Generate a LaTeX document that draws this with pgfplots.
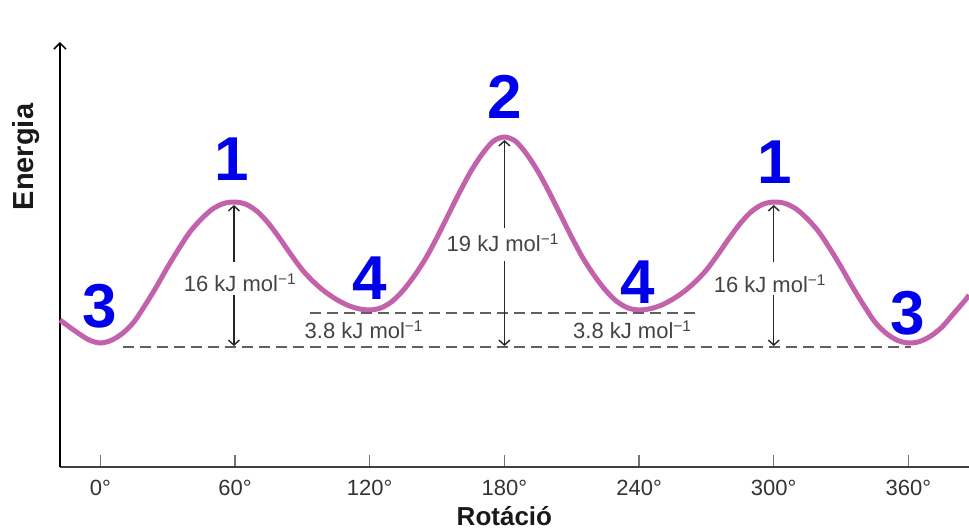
\documentclass[border=0pt]{standalone}
\usepackage{fontspec}
\setmainfont{Liberation Sans}
\usepackage{pgfplots}
\pgfplotsset{compat=1.18}
\usetikzlibrary{arrows.meta}
\definecolor{curve}{RGB}{195,98,170}
\definecolor{lab}{RGB}{0,0,235}
\definecolor{ann}{RGB}{68,68,68}
\begin{document}
\begin{tikzpicture}
\useasboundingbox (-60pt,-64pt) rectangle (909pt,467pt);
\begin{axis}[
  scale only axis, width=909pt, height=425pt,
  xmin=-18, xmax=387, ymin=64, ymax=489,
  axis x line=bottom, axis y line=left,
  x axis line style={-, line width=2.2pt, color=black!75},
  y axis line style={-{Straight Barb[length=6pt,width=12pt,line width=1.5pt]}, line width=1.8pt, black},
  xtick={0,60,...,360},
  xticklabels={0°,60°,120°,180°,240°,300°,360°},
  ytick=\empty,
  tick align=inside,
  major tick length=12pt,
  x tick style={line width=1.5pt, color=black!55},
  xticklabel style={font=\fontsize{22}{24}\selectfont, text=black!80, yshift=-10pt},
  clip=false,
]
\addplot[curve, line width=5pt, smooth] coordinates {
(-18,211) (-15,206) (-10,198) (-5,191) (0,188)
(5,190.8) (10,197.9) (15,209.2) (20,226.1) (25,244.4) (30,264.1) (35,282.5) (40,299.4) (45,312.1) (50,322.0) (55,327.6) (60,329)
(65,326.6) (70,319.3) (75,307.4) (80,292.3) (85,276.1) (90,261.0) (95,249.1) (100,239.4) (105,231.8) (110,225.9) (115,222.3) (120,221)
(125,223.1) (130,229.7) (135,240.9) (140,255.6) (145,272.9) (150,293.7) (155,316.2) (160,338.6) (165,359.4) (170,376.7) (175,389.7) (180,394)
(185,389.7) (190,376.7) (195,359.4) (200,338.6) (205,316.2) (210,293.7) (215,272.9) (220,255.6) (225,240.9) (230,229.7) (235,223.1) (240,221)
(245,222.3) (250,225.9) (255,231.8) (260,239.4) (265,249.1) (270,261.0) (275,276.1) (280,292.3) (285,307.4) (290,319.3) (295,326.6) (300,329)
(305,327.6) (310,322.0) (315,312.1) (320,299.4) (325,282.5) (330,264.1) (335,244.4) (340,226.1) (345,209.2) (350,197.9) (355,190.8) (360,188)
(365,189.5) (370,195) (375,204) (380,217) (385,230) (387,236)
};
% dashed reference lines
\draw[ann!85, line width=2pt, dash pattern=on 11pt off 6pt] (axis cs:10,184) -- (axis cs:361,184);
\draw[ann!85, line width=2pt, dash pattern=on 11pt off 6pt] (axis cs:93.6,218) -- (axis cs:266,218);
% arrows
\tikzset{dimarrow/.style={black!85, line width=1.5pt, -{Straight Barb[length=5pt,width=11pt,line width=1.4pt]}}}
\draw[dimarrow] (axis cs:59.5,269) -- (axis cs:59.5,326);
\draw[dimarrow] (axis cs:59.5,236) -- (axis cs:59.5,185);
\draw[dimarrow] (axis cs:180,303) -- (axis cs:180,391);
\draw[dimarrow] (axis cs:180,270) -- (axis cs:180,185);
\draw[dimarrow] (axis cs:300,269) -- (axis cs:300,326);
\draw[dimarrow] (axis cs:300,236) -- (axis cs:300,185);
% value labels
\tikzset{val/.style={font=\fontsize{22}{24}\selectfont, text=ann, inner sep=1pt}}
\node[val] at (axis cs:62.2,248) {16 kJ mol\textsuperscript{−1}};
\node[val] at (axis cs:179.3,288) {19 kJ mol\textsuperscript{−1}};
\node[val] at (axis cs:298.3,247) {16 kJ mol\textsuperscript{−1}};
\node[val] at (axis cs:117.4,201) {3.8 kJ mol\textsuperscript{−1}};
\node[val] at (axis cs:237,201) {3.8 kJ mol\textsuperscript{−1}};
% blue conformer numbers
\tikzset{num/.style={font=\fontsize{62}{62}\selectfont\bfseries, text=lab, inner sep=0pt}}
\node[num] at (axis cs:58.7,372) {1};
\node[num] at (axis cs:180.2,434) {2};
\node[num] at (axis cs:300.5,369) {1};
\node[num] at (axis cs:-0.2,225) {3};
\node[num] at (axis cs:359.5,218) {3};
\node[num] at (axis cs:120.1,253) {4};
\node[num] at (axis cs:239.6,249) {4};
% axis titles
\node[rotate=90, font=\fontsize{29}{31}\selectfont\bfseries, text=black!90] at (axis cs:-33.3,374) {Energia};
\node[anchor=base, font=\fontsize{26}{28}\selectfont\bfseries, text=black!90] at (axis cs:180,6) {Rotáció};
\end{axis}
\end{tikzpicture}
\end{document}
